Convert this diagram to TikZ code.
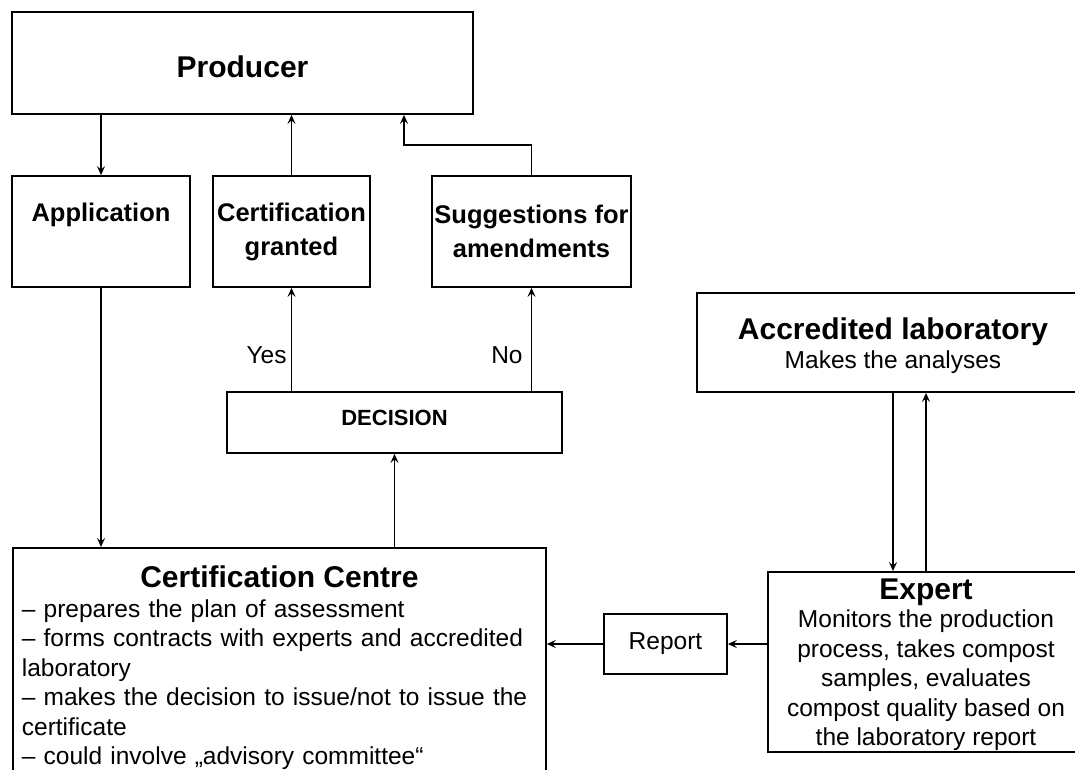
\documentclass[tikz,border=0pt]{standalone}
\usepackage{fontspec}
\setmainfont{Liberation Sans}
\usetikzlibrary{arrows.meta,positioning,calc}

\begin{document}
\begin{tikzpicture}[x=1pt,y=-1pt,>={Stealth[length=9pt,width=8pt,inset=3.5pt]},line width=1.8pt,
      box/.style={draw,line width=1.8pt,inner sep=2pt,align=center},
      conn/.style={->,line width=1.8pt},
      lbl/.style={font=\fontsize{25.5}{34}\selectfont\bfseries},
      big/.style={font=\fontsize{30}{30}\selectfont\bfseries},
      body/.style={font=\fontsize{24.5}{29.5}\selectfont}]
    \useasboundingbox (0,0) rectangle (1075,769);
    \fill[white] (0,0) rectangle (1075,769);
    \node[box,big,minimum width=461pt,minimum height=102pt] (prod) at (242.5,63) {\rule{0pt}{30pt}Producer};
    \node[box,lbl,minimum width=178pt,minimum height=111pt] (app) at (101,231.5) {Application\\\phantom{granted}};
    \node[box,lbl,minimum width=157pt,minimum height=111pt] (grant) at (291.5,231.5) {Certification\\granted};
    \node[box,lbl,minimum width=199pt,minimum height=111pt] (sugg) at (531.5,231.5) {Suggestions for\\amendments};
    \node[box,font=\fontsize{22}{26}\selectfont\bfseries,minimum width=335pt,minimum height=61pt] (dec) at (394.5,422.5) {\rule[-9pt]{0pt}{9pt}DECISION};
    \node[box,body,minimum width=392pt,minimum height=99pt] (lab) at (893,342.5)
      {{\fontsize{30}{30}\selectfont\bfseries\rule{0pt}{28pt}Accredited laboratory}\\[-1pt]Makes the analyses};
    \node[box,body,inner ysep=1pt,minimum width=316pt,minimum height=180pt] (expert) at (926,662)
      {{\fontsize{30}{30}\selectfont\bfseries\rule{0pt}{27pt}Expert}\\[-1.5pt]Monitors the production\\process, takes compost\\samples, evaluates\\compost quality based on\\the laboratory report};
    \node[box,body,minimum width=123pt,minimum height=60pt] (report) at (665.5,644) {Report};
    \node[box,body,anchor=north west,text width=515pt,inner xsep=9pt,inner ysep=18pt,align=left] (cc) at (12,547)
      {{\centering\fontsize{30}{30}\selectfont\bfseries Certification Centre\par}
       \raggedright
       \textendash{} prepares the plan of assessment\\
       \textendash{} forms contracts with experts and accredited\\
       laboratory\\
       \textendash{} makes the decision to issue/not to issue the\\
       certificate\\
       \textendash{} could involve „advisory committee“};
    % producer and the three answer boxes
    \draw[conn] (prod.south -| app.north) -- (app.north);
    \draw[conn] (grant.north) -- (grant.north |- prod.south);
    \coordinate (bend) at (404,145);
    \draw[conn] (sugg.north) |- (bend) -- (bend |- prod.south);
    \draw[conn] (dec.north -| grant) -- node[body,left,pos=.35,inner sep=4pt]{Yes} (grant.south);
    \draw[conn] (dec.north -| sugg) -- node[body,left,pos=.35,inner sep=8pt]{No} (sugg.south);
    % centre, laboratory and expert
    \draw[conn] (app.south) -- (app.south |- cc.north);
    \draw[conn] (cc.north -| dec.south) -- (dec.south);
    \draw[conn] (lab.south) -- (lab.south |- expert.north);
    \draw[conn] (expert.north) -- (expert.north |- lab.south);
    \draw[conn] (expert.west |- report.east) -- (report.east);
    \draw[conn] (report.west) -- (report.west -| cc.east);
  \end{tikzpicture}
\end{document}
